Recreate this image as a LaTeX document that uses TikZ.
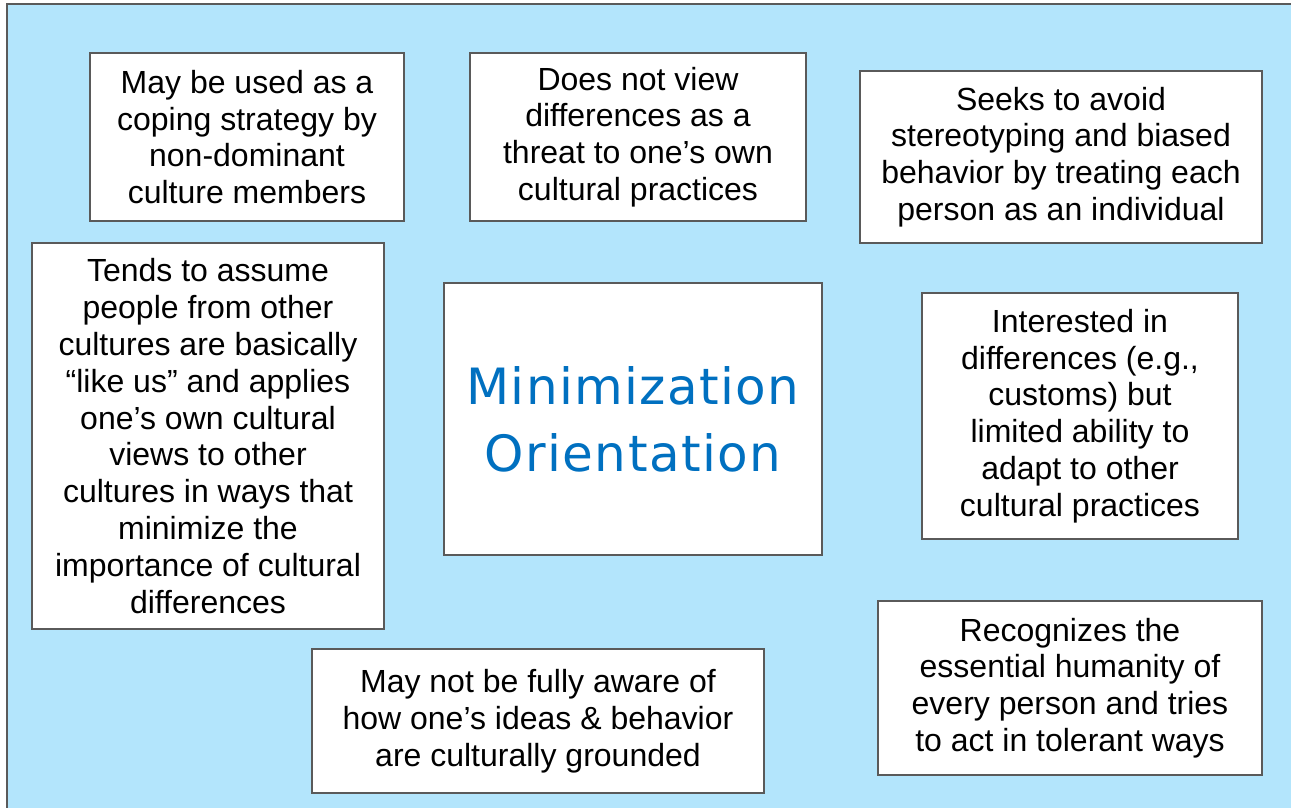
\documentclass[tikz,border=0pt]{standalone}
\usepackage{fontspec}
\setmainfont{Liberation Sans}
\newfontfamily\titlefont[LetterSpace=2.8]{DejaVu Sans}
\definecolor{bgblue}{RGB}{179,229,252}
\definecolor{boxgray}{RGB}{90,90,90}
\definecolor{titleblue}{RGB}{0,112,192}
\begin{document}
\begin{tikzpicture}[x=1pt,y=-1pt,
  box/.style={draw=boxgray, fill=white, line width=1.3pt, inner sep=0pt, align=center,
    font=\fontsize{32}{36.8}\selectfont},
  titlebox/.style={box, text=titleblue, font=\titlefont\fontsize{50}{67}\selectfont}]
\useasboundingbox (0,0) rectangle (1291,807);
\fill[white] (0,0) rectangle (1291,807);
\begin{scope}
\clip (0,0) rectangle (1291,807);
\draw[fill=bgblue, draw=boxgray, line width=1.5pt] (7,4) rectangle (1310,830);
\end{scope}
\node[box, minimum width=314pt, minimum height=168pt] (a) at (247,137)
  {May be used as a\\coping strategy by\\non-dominant\\culture members};
\node[box, minimum width=336pt, minimum height=168pt] (b) at (638,137)
  {Does not view\\differences as a\\threat to one’s own\\cultural practices};
\node[box, minimum width=402pt, minimum height=172pt] (c) at (1061,157)
  {Seeks to avoid\\stereotyping and biased\\behavior by treating each\\person as an individual};
\node[box, minimum width=352pt, minimum height=386pt] (d) at (208,436)
  {Tends to assume\\people from other\\cultures are basically\\“like us” and applies\\one’s own cultural\\views to other\\cultures in ways that\\minimize the\\importance of cultural\\differences};
\node[titlebox, minimum width=378pt, minimum height=272pt] (m) at (633,419)
  {Minimization\\Orientation};
\node[box, minimum width=316pt, minimum height=246pt] (e) at (1080,416)
  {Interested in\\differences (e.g.,\\customs) but\\limited ability to\\adapt to other\\cultural practices};
\node[box, minimum width=452pt, minimum height=144pt] (f) at (538,721)
  {May not be fully aware of\\how one’s ideas \& behavior\\are culturally grounded};
\node[box, minimum width=384pt, minimum height=174pt] (g) at (1070,688)
  {Recognizes the\\essential humanity of\\every person and tries\\to act in tolerant ways};
\end{tikzpicture}
\end{document}
